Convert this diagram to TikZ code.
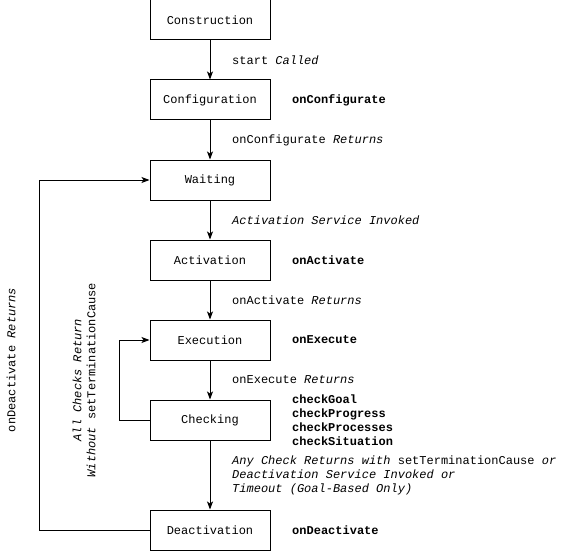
\documentclass[tikz,border=0pt]{standalone}
\usepackage{fontspec}
\setmonofont{Liberation Mono}
\usetikzlibrary{arrows.meta}

\tikzset{
  state/.style={draw, line width=1pt, minimum width=120pt, minimum height=40pt, inner sep=0pt},
  trans/.style={anchor=west, inner sep=0pt, align=left},
  call/.style={anchor=west, inner sep=0pt, align=left, font=\ttfamily\fontsize{12}{14}\selectfont\bfseries},
  flow/.style={line width=1pt, -{Stealth[length=8pt,width=6pt,inset=2pt]}}
}

\begin{document}
\begin{tikzpicture}[x=1pt, y=-1pt, font=\ttfamily\fontsize{12}{14}\selectfont]
  \useasboundingbox (0,0) rectangle (571,551);

  % states
  \node [state] (construction) at (210,20) {Construction};
  \node [state] (configuration) at (210,100) {Configuration};
  \node [state] (waiting) at (210,180) {Waiting};
  \node [state] (activation) at (210,260) {Activation};
  \node [state] (execution) at (210,340) {Execution};
  \node [state] (checking) at (210,420) {Checking};
  \node [state] (deactivation) at (210,530) {Deactivation};

  % transitions
  \draw [flow] (construction) -- (configuration);
  \draw [flow] (configuration) -- (waiting);
  \draw [flow] (waiting) -- (activation);
  \draw [flow] (activation) -- (execution);
  \draw [flow] (execution) -- (checking);
  \draw [flow] (checking) -- (deactivation);
  \draw [flow] (checking.west) -- ++(-30,0) |- (execution.west);
  \draw [flow] (deactivation.west) -- ++(-110,0) |- (waiting.west);

  % transition labels
  \node [trans] (startlbl) at (232,60) {start \textit{Called}};
  \node [trans] (configlbl) at (232,140) {onConfigurate \textit{Returns}};
  \node [trans] (invokelbl) at (232,220) {\textit{Activation Service Invoked}};
  \node [trans] (activatelbl) at (232,300) {onActivate \textit{Returns}};
  \node [trans] (executelbl) at (232,380) {onExecute \textit{Returns}};
  \node [trans] (endlbl) at (232,475) {\textit{Any Check Returns with} setTerminationCause \textit{or}\\
    \textit{Deactivation Service Invoked or}\\
    \textit{Timeout (Goal-Based Only)}};
  \node [trans, anchor=center, align=center, rotate=90] (looplbl) at (84,380) {\textit{All Checks Return}\\
    \textit{Without} setTerminationCause};
  \node [trans, anchor=center, rotate=90] (returnlbl) at (11,360) {onDeactivate \textit{Returns}};

  % callbacks
  \node [call] (oncfg) at (292,100) {onConfigurate};
  \node [call] (onact) at (292,260) {onActivate};
  \node [call] (onexe) at (292,340) {onExecute};
  \node [call] (checks) at (292,420) {checkGoal\\checkProgress\\checkProcesses\\checkSituation};
  \node [call] (ondeact) at (292,530) {onDeactivate};
\end{tikzpicture}
\end{document}
